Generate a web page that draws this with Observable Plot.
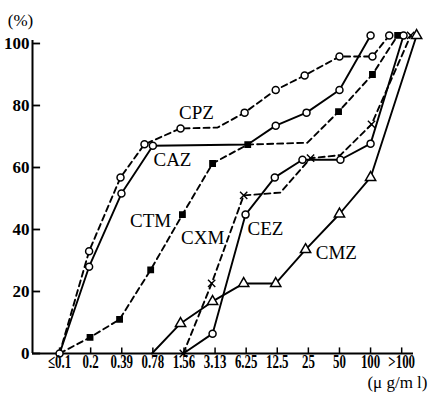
<!DOCTYPE html>
<html>
<head>
<meta charset="utf-8">
<script src="https://cdn.jsdelivr.net/npm/d3@7"></script>
<script src="https://cdn.jsdelivr.net/npm/@observablehq/plot@0.6"></script>
<style>
  html, body { margin: 0; padding: 0; background: #fff; }
  #chart svg { display: block; background: #fff; }
</style>
</head>
<body>
<div id="chart"></div>
<script>
// x categories (MIC, μg/ml) and y ticks
const xLabels = ["≤0.1","0.2","0.39","0.78","1.56","3.13","6.25","12.5","25","50","100",">100"];
const yTicks = [0, 20, 40, 60, 80, 100];

// Cumulative % per drug; x = category position, m = marker drawn
const CPZ_x = [0, 0.95, 1.96, 2.73, 3.89, 5.08, 5.95, 6.95, 7.88, 9.0, 10.06, 10.6];
const CPZ_y = [0, 33, 56.8, 67.5, 72.6, 72.9, 77.7, 85, 89.7, 95.8, 95.8, 102.6];
const CPZ_m = [1, 1, 1, 1, 1, 0, 1, 1, 1, 1, 1, 1];

const CAZ_x = [0, 0.95, 1.99, 3.0, 6.05, 6.95, 7.94, 9.0, 10.0];
const CAZ_y = [0, 28, 51.6, 67, 67.4, 73.5, 77.7, 85, 102.6];
const CAZ_m = [0, 1, 1, 1, 0, 1, 1, 1, 1];

const CTM_x = [0, 0.98, 1.93, 2.93, 3.95, 4.92, 6.05, 7.97, 8.97, 10.06, 10.87];
const CTM_y = [0, 5.2, 11, 27, 44.8, 61.3, 67.4, 68, 78, 90, 102.6];
const CTM_m = [0, 1, 1, 1, 1, 1, 1, 0, 1, 1, 1];

const CXM_x = [3.98, 4.89, 5.92, 7.1, 8.07, 9.03, 10.03, 11.29];
const CXM_y = [0, 22.6, 51, 51.9, 63, 64, 73.9, 102.6];
const CXM_m = [1, 1, 1, 0, 1, 0, 1, 1];

const CEZ_x = [3.98, 4.92, 5.98, 6.92, 7.81, 9.03, 10.0, 11.06];
const CEZ_y = [0, 6.4, 44.8, 56.8, 62.5, 62.5, 67.7, 102.6];
const CEZ_m = [0, 1, 1, 1, 1, 1, 1, 1];

const CMZ_x = [2.97, 3.89, 4.92, 5.92, 6.95, 7.91, 9.0, 10.0, 11.48];
const CMZ_y = [0, 9.7, 16.8, 22.6, 22.6, 33.5, 45, 56.8, 102.6];
const CMZ_m = [0, 1, 1, 1, 1, 1, 1, 1, 1];

// series label annotations
const seriesNames = ["CPZ", "CAZ", "CTM", "CXM", "CEZ", "CMZ"];
const labelX = [4.4, 3.63, 2.93, 4.6, 6.62, 8.9];
const labelY = [77.7, 62.4, 42.9, 37.4, 40.3, 32.3];

// build tables
function rows(name, xs, ys, ms) {
  return xs.map((x, i) => ({ name, x, y: ys[i], m: ms[i] }));
}
const series = [
  { name: "CPZ", data: rows("CPZ", CPZ_x, CPZ_y, CPZ_m), dashed: true,  symbol: "circle",   fill: "white", r: 3.5 },
  { name: "CAZ", data: rows("CAZ", CAZ_x, CAZ_y, CAZ_m), dashed: false, symbol: "circle",   fill: "white", r: 3.5 },
  { name: "CTM", data: rows("CTM", CTM_x, CTM_y, CTM_m), dashed: true,  symbol: "square",   fill: "black", r: 3.0 },
  { name: "CXM", data: rows("CXM", CXM_x, CXM_y, CXM_m), dashed: true,  symbol: "times",    fill: "none",  r: 3.4 },
  { name: "CEZ", data: rows("CEZ", CEZ_x, CEZ_y, CEZ_m), dashed: false, symbol: "circle",   fill: "white", r: 3.5 },
  { name: "CMZ", data: rows("CMZ", CMZ_x, CMZ_y, CMZ_m), dashed: false, symbol: "triangle", fill: "white", r: 3.8 }
];

const xDomain = [-0.87, 11.38];
const labels = seriesNames.map((s, i) => ({ s, x: labelX[i], y: labelY[i] }));

const marks = [];
// axes lines
marks.push(Plot.ruleY([0], { stroke: "black", strokeWidth: 2 }));
marks.push(Plot.ruleX([xDomain[0]], { y1: 0, y2: 101, stroke: "black", strokeWidth: 2 }));
// inward ticks
marks.push(Plot.ruleY(yTicks, { x1: xDomain[0], x2: xDomain[0] + 0.26, stroke: "black", strokeWidth: 1.8 }));
marks.push(Plot.ruleX(d3.range(xLabels.length), { y1: 0, y2: 1.8, stroke: "black", strokeWidth: 1.5 }));

// lines
for (const s of series) {
  marks.push(Plot.line(s.data, {
    x: "x", y: "y", stroke: "black", strokeWidth: 1.9,
    strokeDasharray: s.dashed ? "6,4" : null, curve: "linear"
  }));
}
// markers
for (const s of series) {
  marks.push(Plot.dot(s.data.filter(d => d.m), {
    x: "x", y: "y", symbol: s.symbol, r: s.r,
    fill: s.fill, stroke: "black", strokeWidth: s.symbol === "times" ? 1.4 : 1.5
  }));
}
// series labels
marks.push(Plot.text(labels, {
  x: "x", y: "y", text: "s", fontSize: 19, fontFamily: "Liberation Serif",
  fill: "black", textAnchor: "middle", lineAnchor: "middle"
}));

// axes
marks.push(Plot.axisY({
  ticks: yTicks, tickSize: 0, tickPadding: 3, label: null
}));
marks.push(Plot.axisX({
  ticks: d3.range(xLabels.length), tickFormat: i => xLabels[i],
  tickSize: 0, tickPadding: 1, label: null
}));

// axis unit labels
marks.push(Plot.text(["(%)"], {
  frameAnchor: "top-left", dx: -12, dy: -23, fontSize: 17, fontFamily: "Liberation Serif",
  textAnchor: "middle", lineAnchor: "middle"
}));
marks.push(Plot.text(["(μ g/m l)"], {
  frameAnchor: "bottom-right", dx: 14, dy: 29, fontSize: 17, fontFamily: "Liberation Serif",
  textAnchor: "end", lineAnchor: "middle"
}));

const chart = Plot.plot({
  width: 429,
  height: 393,
  marginLeft: 32,
  marginRight: 16,
  marginTop: 43,
  marginBottom: 40,
  style: { background: "white", color: "black", fontFamily: "Liberation Serif" },
  x: { type: "linear", domain: xDomain, axis: null },
  y: { domain: [0, 100], axis: null },
  marks
});
document.getElementById("chart").appendChild(chart);

// tick label typography: tall condensed x labels, heavier y labels (as in the print)
d3.select(chart).selectAll("g[aria-label='x-axis tick label'] text").each(function () {
  const t = this.getAttribute("transform") || "";
  this.setAttribute("transform", `${t} scale(0.68,1)`);
  this.setAttribute("font-size", 19);
  this.setAttribute("font-weight", "bold");
  this.setAttribute("font-family", "Liberation Serif");
});
d3.select(chart).selectAll("g[aria-label='y-axis tick label'] text").each(function () {
  this.setAttribute("font-size", 17);
  this.setAttribute("font-weight", "bold");
  this.setAttribute("font-family", "Liberation Serif");
});
</script>
</body>
</html>
